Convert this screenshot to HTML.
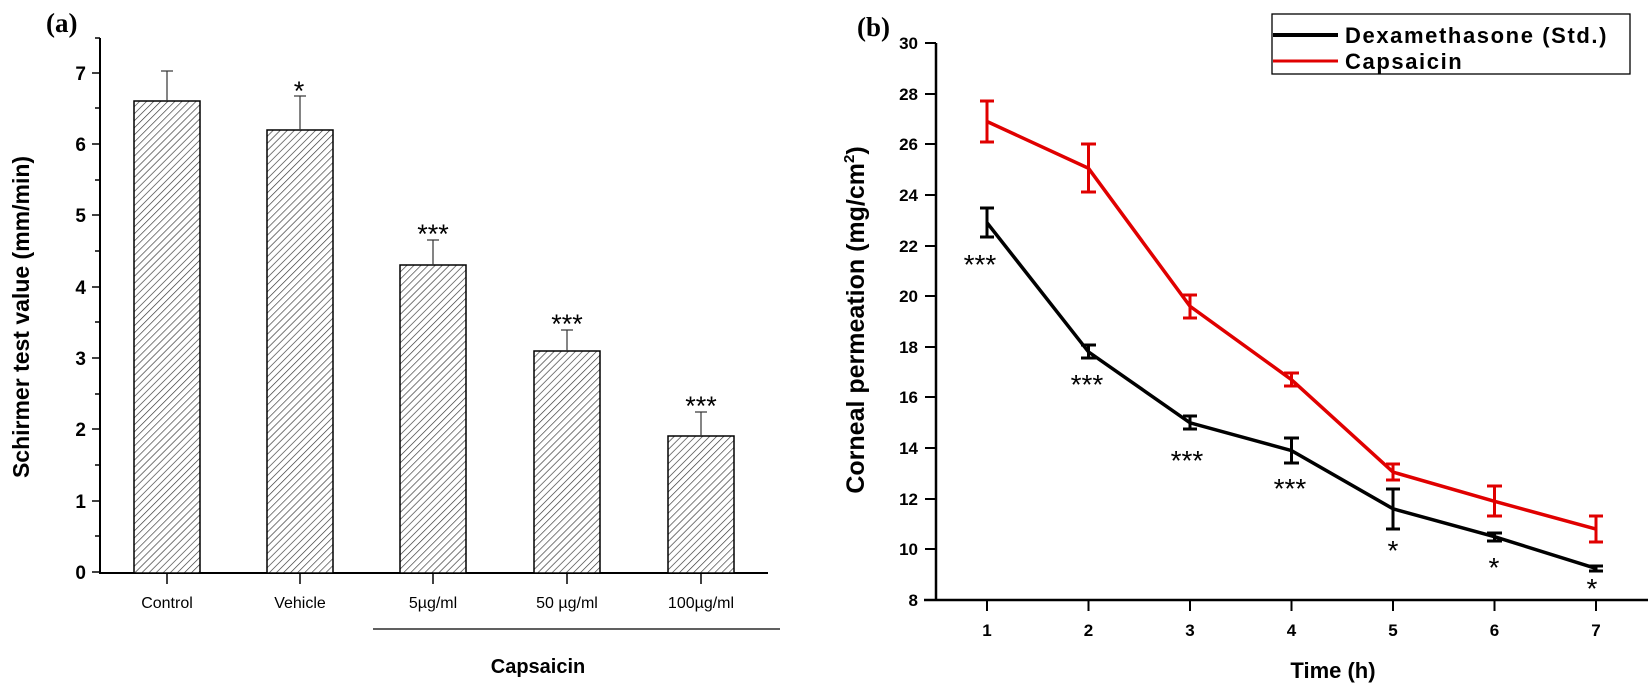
<!DOCTYPE html>
<html><head><meta charset="utf-8"><style>
html,body{margin:0;padding:0;background:#fff;}
svg{display:block;font-family:"Liberation Sans",Arial,sans-serif;}
</style></head><body>
<svg width="1650" height="688" viewBox="0 0 1650 688" xmlns="http://www.w3.org/2000/svg">
<defs>
<pattern id="h" width="5" height="5" patternUnits="userSpaceOnUse" patternTransform="rotate(45)">
<rect width="5" height="5" fill="#fff"/>
<line x1="0" y1="0" x2="0" y2="5" stroke="#333" stroke-width="1.3"/>
</pattern>
</defs>
<!-- Panel a -->
<text x="46" y="32" font-family="Liberation Serif,serif" font-weight="bold" font-size="27">(a)</text>
<g stroke="#000" stroke-width="2" fill="none">
<line x1="100" y1="38" x2="100" y2="573"/>
<line x1="99" y1="573" x2="768" y2="573"/>
</g>
<g stroke="#000" stroke-width="1.5">
<line x1="92" y1="572" x2="100" y2="572"/><line x1="95" y1="536" x2="100" y2="536"/>
<line x1="92" y1="501" x2="100" y2="501"/><line x1="95" y1="465" x2="100" y2="465"/>
<line x1="92" y1="429" x2="100" y2="429"/><line x1="95" y1="394" x2="100" y2="394"/>
<line x1="92" y1="358" x2="100" y2="358"/><line x1="95" y1="322" x2="100" y2="322"/>
<line x1="92" y1="287" x2="100" y2="287"/><line x1="95" y1="251" x2="100" y2="251"/>
<line x1="92" y1="215" x2="100" y2="215"/><line x1="95" y1="180" x2="100" y2="180"/>
<line x1="92" y1="144" x2="100" y2="144"/><line x1="95" y1="108" x2="100" y2="108"/>
<line x1="92" y1="73" x2="100" y2="73"/><line x1="95" y1="38" x2="100" y2="38"/>
<line x1="167" y1="573" x2="167" y2="584"/><line x1="300" y1="573" x2="300" y2="584"/>
<line x1="433" y1="573" x2="433" y2="584"/><line x1="567" y1="573" x2="567" y2="584"/>
<line x1="701" y1="573" x2="701" y2="584"/>
</g>
<g font-weight="bold" font-size="19" text-anchor="end">
<text x="86" y="579">0</text><text x="86" y="508">1</text><text x="86" y="436">2</text>
<text x="86" y="365">3</text><text x="86" y="294">4</text><text x="86" y="222">5</text>
<text x="86" y="151">6</text><text x="86" y="80">7</text>
</g>
<text transform="translate(29,317) rotate(-90)" text-anchor="middle" font-weight="bold" font-size="23">Schirmer test value (mm/min)</text>
<g stroke="#000" stroke-width="1.5" fill="url(#h)">
<rect x="134" y="101" width="66" height="472"/>
<rect x="267" y="130" width="66" height="443"/>
<rect x="400" y="265" width="66" height="308"/>
<rect x="534" y="351" width="66" height="222"/>
<rect x="668" y="436" width="66" height="137"/>
</g>
<g stroke="#333" stroke-width="1.2">
<line x1="167" y1="101" x2="167" y2="71"/><line x1="161" y1="71" x2="173" y2="71"/>
<line x1="300" y1="130" x2="300" y2="96"/><line x1="294" y1="96" x2="306" y2="96"/>
<line x1="433" y1="265" x2="433" y2="240"/><line x1="427" y1="240" x2="439" y2="240"/>
<line x1="567" y1="351" x2="567" y2="330"/><line x1="561" y1="330" x2="573" y2="330"/>
<line x1="701" y1="436" x2="701" y2="412"/><line x1="695" y1="412" x2="707" y2="412"/>
</g>
<g font-size="27" text-anchor="middle">
<text x="299" y="100">*</text><text x="433" y="243">***</text>
<text x="567" y="333">***</text><text x="701" y="415">***</text>
</g>
<g font-size="16" text-anchor="middle">
<text x="167" y="608">Control</text><text x="300" y="608">Vehicle</text>
<text x="433" y="608">5µg/ml</text><text x="567" y="608">50 µg/ml</text>
<text x="701" y="608">100µg/ml</text>
</g>
<line x1="373" y1="629" x2="780" y2="629" stroke="#000" stroke-width="1.2"/>
<text x="538" y="673" text-anchor="middle" font-weight="bold" font-size="20">Capsaicin</text>

<!-- Panel b -->
<text x="857" y="36" font-family="Liberation Serif,serif" font-weight="bold" font-size="27">(b)</text>
<g stroke="#000" stroke-width="2.5" fill="none">
<line x1="936" y1="43" x2="936" y2="601"/>
<line x1="924" y1="600" x2="1648" y2="600"/>
</g>
<g stroke="#000" stroke-width="2">
<line x1="925" y1="43" x2="936" y2="43"/><line x1="925" y1="94" x2="936" y2="94"/>
<line x1="925" y1="144" x2="936" y2="144"/><line x1="925" y1="195" x2="936" y2="195"/>
<line x1="925" y1="246" x2="936" y2="246"/><line x1="925" y1="296" x2="936" y2="296"/>
<line x1="925" y1="347" x2="936" y2="347"/><line x1="925" y1="397" x2="936" y2="397"/>
<line x1="925" y1="448" x2="936" y2="448"/><line x1="925" y1="499" x2="936" y2="499"/>
<line x1="925" y1="549" x2="936" y2="549"/>
<line x1="987" y1="600" x2="987" y2="611"/><line x1="1088.5" y1="600" x2="1088.5" y2="611"/>
<line x1="1190" y1="600" x2="1190" y2="611"/><line x1="1291.5" y1="600" x2="1291.5" y2="611"/>
<line x1="1393" y1="600" x2="1393" y2="611"/><line x1="1494.5" y1="600" x2="1494.5" y2="611"/>
<line x1="1596" y1="600" x2="1596" y2="611"/>
</g>
<g font-weight="bold" font-size="17" text-anchor="end">
<text x="918" y="49">30</text><text x="918" y="100">28</text><text x="918" y="150">26</text>
<text x="918" y="201">24</text><text x="918" y="252">22</text><text x="918" y="302">20</text>
<text x="918" y="353">18</text><text x="918" y="403">16</text><text x="918" y="454">14</text>
<text x="918" y="505">12</text><text x="918" y="555">10</text><text x="918" y="606">8</text>
</g>
<g font-weight="bold" font-size="17" text-anchor="middle">
<text x="987" y="636">1</text><text x="1088.5" y="636">2</text><text x="1190" y="636">3</text>
<text x="1291.5" y="636">4</text><text x="1393" y="636">5</text><text x="1494.5" y="636">6</text>
<text x="1596" y="636">7</text>
</g>
<text x="1333" y="678" text-anchor="middle" font-weight="bold" font-size="22">Time (h)</text>
<text transform="translate(864,320) rotate(-90)" text-anchor="middle" font-weight="bold" font-size="25">Corneal permeation (mg/cm<tspan dy="-10" font-size="15">2</tspan><tspan dy="10">)</tspan></text>
<!-- red series -->
<polyline fill="none" stroke="#e00000" stroke-width="3.5" points="987,121.5 1088.5,168.3 1190,306.3 1291.5,379.7 1393,472.1 1494.5,501.3 1596,529.1"/>
<g stroke="#e00000" stroke-width="3">
<line x1="987" y1="101" x2="987" y2="142"/><line x1="980" y1="101" x2="994" y2="101"/><line x1="980" y1="142" x2="994" y2="142"/>
<line x1="1088.5" y1="144" x2="1088.5" y2="192"/><line x1="1081" y1="144" x2="1096" y2="144"/><line x1="1081" y1="192" x2="1096" y2="192"/>
<line x1="1190" y1="295" x2="1190" y2="318"/><line x1="1183" y1="295" x2="1197" y2="295"/><line x1="1183" y1="318" x2="1197" y2="318"/>
<line x1="1291.5" y1="373" x2="1291.5" y2="386"/><line x1="1284" y1="373" x2="1299" y2="373"/><line x1="1284" y1="386" x2="1299" y2="386"/>
<line x1="1393" y1="464" x2="1393" y2="480"/><line x1="1386" y1="464" x2="1400" y2="464"/><line x1="1386" y1="480" x2="1400" y2="480"/>
<line x1="1494.5" y1="486" x2="1494.5" y2="516"/><line x1="1487" y1="486" x2="1502" y2="486"/><line x1="1487" y1="516" x2="1502" y2="516"/>
<line x1="1596" y1="516" x2="1596" y2="542"/><line x1="1589" y1="516" x2="1603" y2="516"/><line x1="1589" y1="542" x2="1603" y2="542"/>
</g>
<!-- black series -->
<polyline fill="none" stroke="#000" stroke-width="3.5" points="987,222.7 1088.5,351.9 1190,422.8 1291.5,450.6 1393,508.8 1494.5,536.7 1596,568.4"/>
<g stroke="#000" stroke-width="3">
<line x1="987" y1="208" x2="987" y2="237"/><line x1="980" y1="208" x2="994" y2="208"/><line x1="980" y1="237" x2="994" y2="237"/>
<line x1="1088.5" y1="345" x2="1088.5" y2="358"/><line x1="1081" y1="345" x2="1096" y2="345"/><line x1="1081" y1="358" x2="1096" y2="358"/>
<line x1="1190" y1="416" x2="1190" y2="429"/><line x1="1183" y1="416" x2="1197" y2="416"/><line x1="1183" y1="429" x2="1197" y2="429"/>
<line x1="1291.5" y1="438" x2="1291.5" y2="463"/><line x1="1284" y1="438" x2="1299" y2="438"/><line x1="1284" y1="463" x2="1299" y2="463"/>
<line x1="1393" y1="489" x2="1393" y2="529"/><line x1="1386" y1="489" x2="1400" y2="489"/><line x1="1386" y1="529" x2="1400" y2="529"/>
<line x1="1494.5" y1="533" x2="1494.5" y2="541"/><line x1="1487" y1="533" x2="1502" y2="533"/><line x1="1487" y1="541" x2="1502" y2="541"/>
<line x1="1596" y1="566" x2="1596" y2="571"/><line x1="1589" y1="566" x2="1603" y2="566"/><line x1="1589" y1="571" x2="1603" y2="571"/>
</g>
<g font-size="28" text-anchor="middle">
<text x="980" y="274">***</text><text x="1087" y="394">***</text>
<text x="1187" y="470">***</text><text x="1290" y="498">***</text>
<text x="1393" y="560">*</text><text x="1494" y="577">*</text><text x="1592" y="598">*</text>
</g>
<!-- legend -->
<rect x="1272" y="14" width="358" height="60" fill="#fff" stroke="#000" stroke-width="1.3"/>
<line x1="1273" y1="35" x2="1338" y2="35" stroke="#000" stroke-width="4"/>
<line x1="1273" y1="61" x2="1338" y2="61" stroke="#e00000" stroke-width="3"/>
<text x="1345" y="43" font-weight="bold" font-size="22" letter-spacing="1.6">Dexamethasone (Std.)</text>
<text x="1345" y="69" font-weight="bold" font-size="22" letter-spacing="1.6">Capsaicin</text>
</svg>
</body></html>
